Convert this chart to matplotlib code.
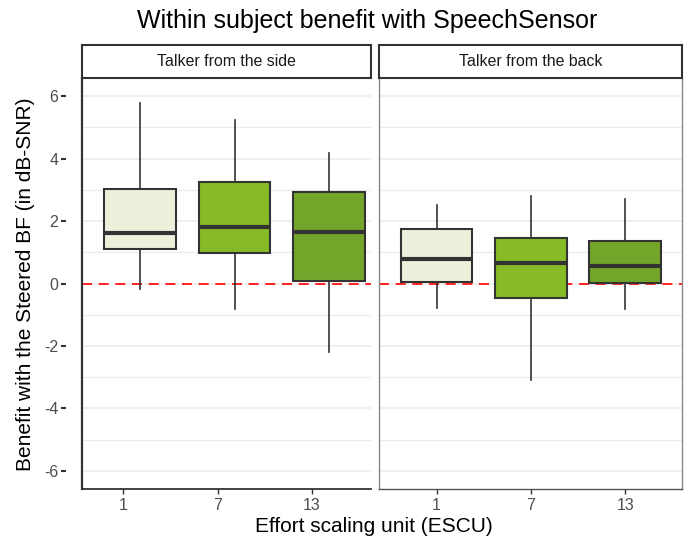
import matplotlib
matplotlib.use("Agg")
import matplotlib.pyplot as plt

plt.rcParams["font.family"] = ["Liberation Sans", "DejaVu Sans"]
plt.rcParams["axes.unicode_minus"] = False

# data
panels = ["Talker from the side", "Talker from the back"]
escu = ["1", "7", "13"]
colors = ["#EDF1DC", "#86BA26", "#74A52B"]

side_whislo = [-0.17, -0.83, -2.19]
side_q1 = [1.12, 0.98, 0.08]
side_med = [1.61, 1.82, 1.64]
side_q3 = [3.01, 3.25, 2.93]
side_whishi = [5.78, 5.24, 4.18]

back_whislo = [-0.80, -3.09, -0.83]
back_q1 = [0.05, -0.46, 0.02]
back_med = [0.80, 0.66, 0.57]
back_q3 = [1.73, 1.47, 1.37]
back_whishi = [2.50, 2.79, 2.69]

data = [
    (side_whislo, side_q1, side_med, side_q3, side_whishi),
    (back_whislo, back_q1, back_med, back_q3, back_whishi),
]

W, H = 686, 537
fig = plt.figure(figsize=(W / 100, H / 100), dpi=100)


def px(x0, y0, x1, y1):
    return [x0 / W, 1 - y1 / H, (x1 - x0) / W, (y1 - y0) / H]


panel_px = [(82, 371), (379, 682)]
# left panel boxes sit a bit right of their ticks in the original
offsets = [0.18, 0.0]
xlims = [(0.566, 3.624), (0.39, 3.6)]

for i, (name, (x0, x1)) in enumerate(zip(panels, panel_px)):
    ax = fig.add_axes(px(x0, 78, x1, 489))
    whislo, q1, med, q3, whishi = data[i]
    stats = [dict(whislo=a, q1=b, med=c, q3=d, whishi=e, label=l)
             for a, b, c, d, e, l in zip(whislo, q1, med, q3, whishi, escu)]
    pos = [k + 1 + offsets[i] for k in range(len(escu))]
    for yv in range(-6, 7):
        ax.axhline(yv, color="#EBEBEB", lw=1.1 if yv % 2 == 0 else 0.9, zorder=0)
    ax.axhline(0, color="#FF0000", lw=1.2, ls=(0, (6, 4)), zorder=1)
    bp = ax.bxp(stats, positions=pos, widths=0.76, patch_artist=True,
                showcaps=False, showfliers=False,
                boxprops=dict(edgecolor="#333333", linewidth=1.5),
                medianprops=dict(color="#333333", linewidth=3, solid_capstyle="butt"),
                whiskerprops=dict(color="#333333", linewidth=1.2))
    for patch, c in zip(bp["boxes"], colors):
        patch.set_facecolor(c)
        patch.set_zorder(2)
    for ln in bp["whiskers"]:
        ln.set_zorder(1.5)
    ax.set_xticks([1, 2, 3])
    ax.set_xticklabels(escu)
    ax.set_xlim(*xlims[i])
    ax.set_ylim(-6.58, 6.58)
    ax.set_yticks([-6, -4, -2, 0, 2, 4, 6])
    ax.tick_params(axis="both", colors="#333333", labelcolor="#4D4D4D",
                   labelsize=11.5, length=3.5, width=1.0, pad=3)
    for s in ax.spines.values():
        s.set_color("#888888")
        s.set_linewidth(1.0)
    ax.spines["top"].set_visible(False)
    if i == 0:
        # y ticks float a little left of the panel edge, as in the original
        ax.spines["left"].set_position(("outward", 11.5))
        ax.spines["left"].set_visible(False)
        ax.tick_params(axis="y", length=3.6, width=1.5, pad=2)
        ax.axvline(xlims[i][0], color="#333333", lw=1.6, clip_on=False, zorder=3)
        ax.spines["bottom"].set_color("#333333")
        ax.spines["bottom"].set_linewidth(1.3)
        ax.spines["right"].set_visible(False)
    else:
        ax.tick_params(axis="y", left=False, labelleft=False)
        ax.spines["bottom"].set_color("#555555")

    sax = fig.add_axes(px(x0, 45, x1, 78))
    sax.set_xticks([])
    sax.set_yticks([])
    for s in sax.spines.values():
        s.set_color("#333333")
        s.set_linewidth(1.5)
    sax.text(0.5, 0.5, name, ha="center", va="center", fontsize=11.4,
             color="#1A1A1A", transform=sax.transAxes)

fig.text(26 / W, 1 - 284 / H, "Benefit with the Steered BF (in dB-SNR)",
         rotation=90, ha="center", va="center", fontsize=15)
fig.text(374 / W, 1 - 526 / H, "Effort scaling unit (ESCU)", ha="center",
         va="center", fontsize=15)
fig.text(367 / W, 1 - 21 / H, "Within subject benefit with SpeechSensor",
         ha="center", va="center", fontsize=18)

fig.savefig("out.png", dpi=100, facecolor="w")
